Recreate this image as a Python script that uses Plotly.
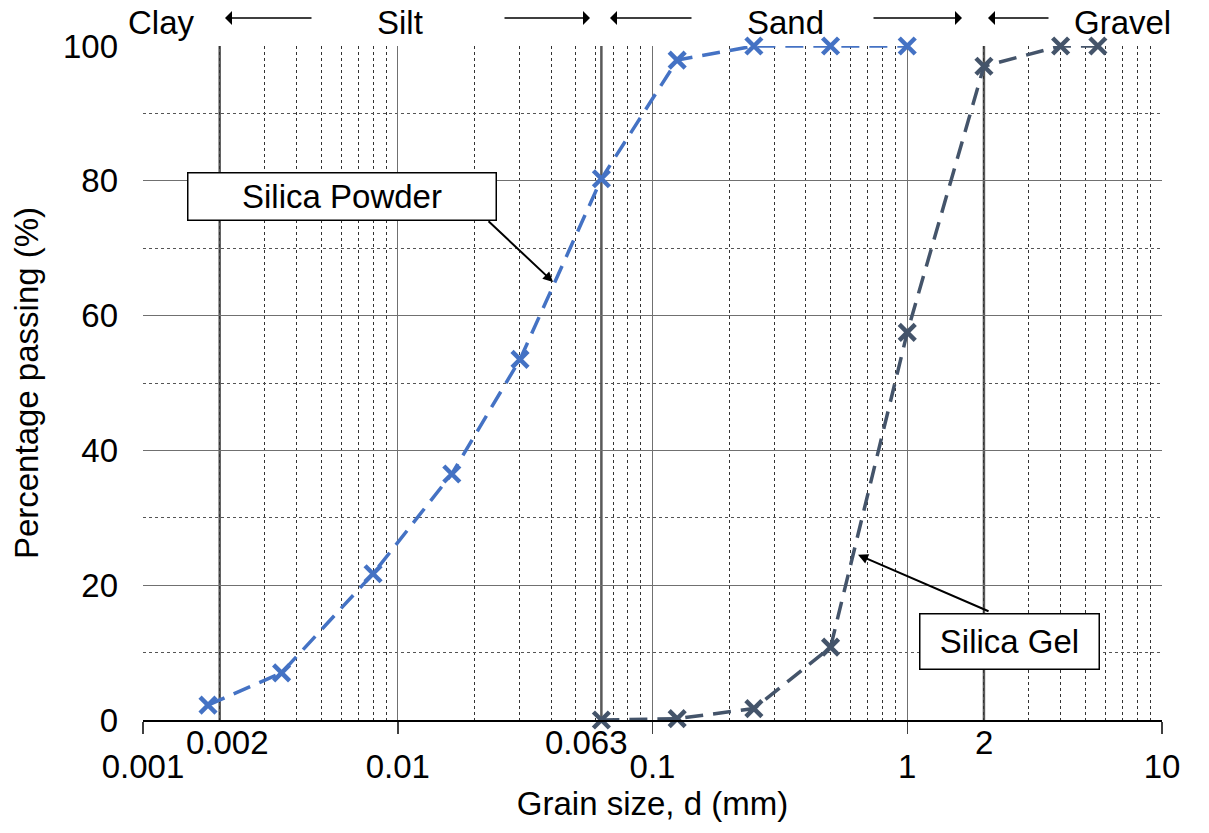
import numpy as np
import plotly.graph_objects as go

# ---- data ----
powder_size = [0.0018, 0.0035, 0.0080, 0.0163, 0.0302, 0.063, 0.125, 0.25, 0.5, 1.0]
powder_pass = [2.2, 7.0, 21.7, 36.5, 53.5, 80.3, 97.9, 100, 100, 100]
gel_size = [0.063, 0.125, 0.25, 0.5, 1.0, 2.0, 4.0, 5.6]
gel_pass = [0.0, 0.2, 1.7, 10.8, 57.5, 97.0, 100, 100]
major_ticks = [0.001, 0.01, 0.1, 1, 10]
major_labels = ["0.001", "0.01", "0.1", "1", "10"]
boundaries = [0.002, 0.063, 2]
boundary_labels = ["0.002", "0.063", "2"]
classes = ["Clay", "Silt", "Sand", "Gravel"]

FONT = "Liberation Sans, Arial, sans-serif"
FS = 33
BLUE = "#4472C4"
SLATE = "#44546A"

minor_x = [k * 10.0 ** n for n in range(-3, 1) for k in range(2, 10)]

fig = go.Figure()
fig.add_trace(go.Scatter(
    x=powder_size, y=powder_pass, mode="lines+markers", name="Silica Powder",
    line=dict(color=BLUE, width=3.5, dash="18px,10px"),
    marker=dict(symbol="x-thin", size=16, line=dict(color=BLUE, width=4.5), color=BLUE),
    cliponaxis=False, showlegend=False))
fig.add_trace(go.Scatter(
    x=gel_size, y=gel_pass, mode="lines+markers", name="Silica Gel",
    line=dict(color=SLATE, width=3.5, dash="18px,10px"),
    marker=dict(symbol="x-thin", size=16, line=dict(color=SLATE, width=4.5), color=SLATE),
    cliponaxis=False, showlegend=False))

# boundary lines (shapes on log axes take raw data values in plotly 6)
for b in boundaries:
    fig.add_shape(type="line", xref="x", yref="paper", x0=b, x1=b,
                  y0=0, y1=1, line=dict(color="#595959", width=2.5), layer="between")

# boundary labels
bshift = {"0.002": 8, "0.063": -15, "2": 0}
for b, lab in zip(boundaries, boundary_labels):
    fig.add_annotation(x=np.log10(b), y=0, xref="x", yref="paper", text=lab, showarrow=False,
                       xanchor="center", yanchor="middle", yshift=-22, xshift=bshift[lab],
                       font=dict(family=FONT, size=FS, color="black"))

# plot box of the reference in pixels
L, R, T, B = 143, 1162, 46, 720
def px2p(px):
    return (px - L) / (R - L)
def py2p(py):
    return (B - py) / (B - T)

# class labels on top
class_px = [161, 400, 785, 1122]
for c, px in zip(classes, class_px):
    fig.add_annotation(x=px2p(px), y=py2p(22), xref="paper", yref="paper", text=c,
                       showarrow=False, xanchor="center", yanchor="middle",
                       font=dict(family=FONT, size=FS, color="black"))
# arrows (head, tail)
arrows = [(225, 313), (590, 503), (610, 693), (962, 872), (988, 1050)]
for head, tail in arrows:
    fig.add_annotation(x=px2p(head), y=py2p(18), xref="paper", yref="paper", text="",
                       showarrow=True, ax=tail - head, ay=0, arrowhead=1, arrowsize=1.8,
                       arrowwidth=1.3, arrowcolor="black")

# callouts
fig.add_annotation(x=px2p(342), y=py2p(196), xref="paper", yref="paper",
                   xanchor="center", yanchor="middle",
                   text="Silica Powder", showarrow=False, bgcolor="white",
                   bordercolor="black", borderwidth=1.5, width=305, height=44,
                   font=dict(family=FONT, size=FS, color="black"))
fig.add_annotation(x=np.log10(0.0407), y=65, xref="x", yref="y", text="",
                   showarrow=True, ax=487 - 553, ay=220 - 282, arrowhead=2, arrowsize=1,
                   arrowwidth=2, arrowcolor="black")
fig.add_annotation(x=px2p(1009), y=py2p(641), xref="paper", yref="paper",
                   xanchor="center", yanchor="middle",
                   text="Silica Gel", showarrow=False, bgcolor="white",
                   bordercolor="black", borderwidth=1.5, width=176, height=52,
                   font=dict(family=FONT, size=FS, color="black"))
fig.add_annotation(x=np.log10(0.641), y=24.5, xref="x", yref="y", text="",
                   showarrow=True, ax=990 - 858, ay=612 - 555, arrowhead=2, arrowsize=1,
                   arrowwidth=2, arrowcolor="black")

fig.update_xaxes(
    type="log", range=[-3, 1], tickvals=major_ticks, ticktext=major_labels,
    showgrid=True, gridcolor="#707070", gridwidth=1,
    showline=True, linecolor="black", linewidth=1.5,
    ticks="outside", ticklen=12, tickcolor="#404040", tickwidth=1.5,
    tickfont=dict(family=FONT, size=FS, color="black"), ticklabelstandoff=5,
    minor=dict(tickvals=minor_x, showgrid=True, gridcolor="#333333", griddash="dot",
               gridwidth=1, ticks=""),
    title=dict(text="Grain size, d (mm)", font=dict(family=FONT, size=FS, color="black"),
               standoff=8),
    automargin=False, zeroline=False)
fig.update_yaxes(
    range=[0, 100], tickvals=[0, 20, 40, 60, 80, 100],
    showgrid=True, gridcolor="#707070", gridwidth=1,
    showline=False, ticks="", ticklabelstandoff=24,
    tickfont=dict(family=FONT, size=FS, color="black"),
    minor=dict(tickvals=[10, 30, 50, 70, 90], showgrid=True, gridcolor="#555555",
               griddash="dot", gridwidth=1, ticks=""),
    title=dict(text="Percentage passing (%)", font=dict(family=FONT, size=FS, color="black"),
               standoff=14),
    automargin=False, zeroline=False)

fig.update_layout(
    width=1209, height=833,
    margin=dict(l=L, r=1209 - R, t=T, b=833 - B, autoexpand=False),
    plot_bgcolor="white", paper_bgcolor="white",
    font=dict(family=FONT, size=FS, color="black"),
    showlegend=False)

fig.write_html("out.html", config={"displayModeBar": False, "staticPlot": True},
               post_script="document.body.style.margin='0';document.body.style.overflow='hidden';")
